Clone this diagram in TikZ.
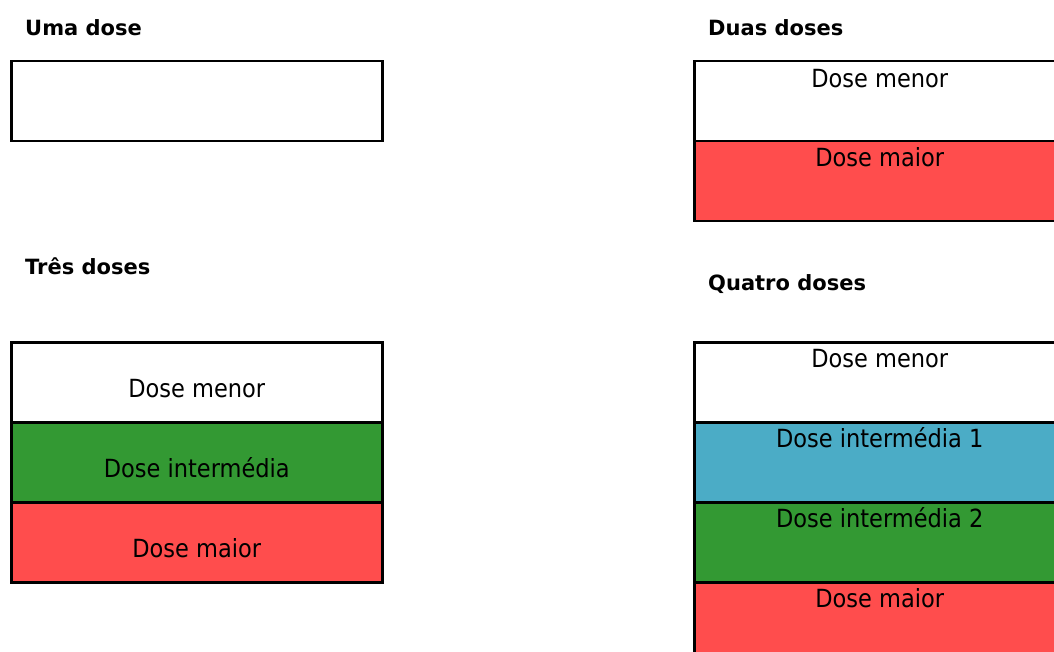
\documentclass[tikz,border=0pt]{standalone}
\usepackage{fontspec}
\setmainfont{DejaVu Sans Condensed}
\newfontfamily\titlefont{DejaVu Sans}[BoldFont={DejaVu Sans Bold}]
\definecolor{dosered}{RGB}{255,77,77}
\definecolor{dosegreen}{RGB}{51,153,51}
\definecolor{doseblue}{RGB}{75,172,198}
\tikzset{
  cell/.style={draw=black, line width=2.5pt, anchor=north west, minimum width=371pt, minimum height=80pt, inner sep=0pt},
  celltext/.style={anchor=base, inner sep=0pt, font=\fontsize{25}{30}\selectfont},
  heading/.style={anchor=base west, inner sep=0pt, font=\titlefont\bfseries\fontsize{21}{25}\selectfont}
}
\begin{document}
\begin{tikzpicture}[x=1pt,y=-1pt]
\useasboundingbox (0,0) rectangle (1054,652);
% Uma dose
\node[heading] (t1) at (25,35.7) {Uma dose};
\node[cell, fill=white] (u1) at (10,60) {};
% Duas doses
\node[heading] (t2) at (708,35.7) {Duas doses};
\node[cell, fill=white] (d1) at (693,60) {};
\node[cell, fill=dosered] (d2) at (693,140) {};
\node[celltext] (d1t) at ([yshift=-28pt]d1.north) {Dose menor};
\node[celltext] (d2t) at ([yshift=-27pt]d2.north) {Dose maior};
% Tres doses
\node[heading] (t3) at (25,275) {Três doses};
\node[cell, fill=white] (r1) at (10,341) {};
\node[cell, fill=dosegreen] (r2) at (10,421) {};
\node[cell, fill=dosered] (r3) at (10,501) {};
\node[celltext] (r1t) at ([yshift=-56pt]r1.north) {Dose menor};
\node[celltext] (r2t) at ([yshift=-56pt]r2.north) {Dose intermédia};
\node[celltext] (r3t) at ([yshift=-56pt]r3.north) {Dose maior};
% Quatro doses
\node[heading] (t4) at (708,290) {Quatro doses};
\node[cell, fill=white] (q1) at (693,341) {};
\node[cell, fill=doseblue] (q2) at (693,421) {};
\node[cell, fill=dosegreen] (q3) at (693,501) {};
\node[cell, fill=dosered] (q4) at (693,581) {};
\node[celltext] (q1t) at ([yshift=-26pt]q1.north) {Dose menor};
\node[celltext] (q2t) at ([yshift=-26pt]q2.north) {Dose intermédia 1};
\node[celltext] (q3t) at ([yshift=-26pt]q3.north) {Dose intermédia 2};
\node[celltext] (q4t) at ([yshift=-26pt]q4.north) {Dose maior};
\end{tikzpicture}
\end{document}
